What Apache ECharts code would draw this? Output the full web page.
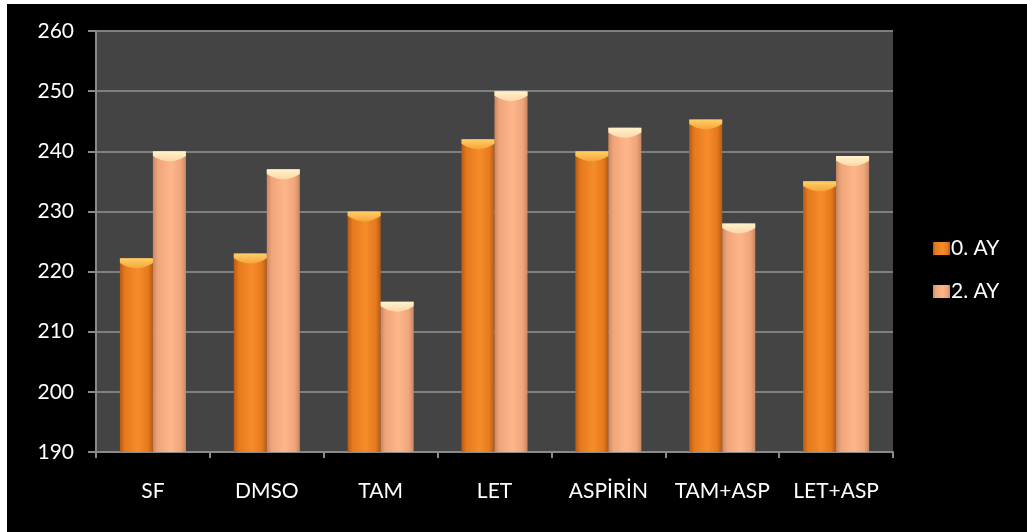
<!DOCTYPE html>
<html>
<head>
<meta charset="utf-8">
<script src="https://cdn.jsdelivr.net/npm/echarts@6/dist/echarts.min.js"></script>
<style>
  html, body { margin: 0; padding: 0; background: #fff; }
  #coolgraph { position: absolute; left: 7px; top: 4px; width: 1020px; height: 528px; background: #000; }
</style>
</head>
<body>
<div id="coolgraph"></div>
<script>
var categories = ['SF', 'DMSO', 'TAM', 'LET', 'ASPİRİN', 'TAM+ASP', 'LET+ASP'];
var ay0 = [222.2, 223, 230, 242, 240, 245.3, 235];
var ay2 = [240, 237, 215, 250, 243.9, 228, 239.2];
var seriesNames = ['0. AY', '2. AY'];

var chartDom = document.getElementById('coolgraph');
var myChart = echarts.init(chartDom);
var option;

function sideGrad(dark, mid, light) {
  return new echarts.graphic.LinearGradient(0, 0, 1, 0, [
    { offset: 0, color: dark },
    { offset: 0.15, color: mid },
    { offset: 0.55, color: light },
    { offset: 0.85, color: mid },
    { offset: 1, color: dark }
  ]);
}

function capGrad(top, bottom) {
  return new echarts.graphic.LinearGradient(0, 0, 0, 1, [
    { offset: 0, color: top },
    { offset: 1, color: bottom }
  ]);
}

var orange = sideGrad('#b85a14', '#e57a1e', '#f68c2a');
var peach = sideGrad('#c98862', '#f0a57a', '#fdb68a');
var capShape = 'path://M0,0 L10,0 L10,3 Q5,10 0,3 Z';

option = {
  backgroundColor: '#000',
  textStyle: { fontFamily: 'Lato, "Open Sans", sans-serif' },
  legend: {
    orient: 'vertical',
    left: 921,
    top: 229,
    icon: 'rect',
    itemWidth: 17,
    itemHeight: 13,
    itemGap: 22,
    textStyle: { color: '#fff', fontSize: 21, padding: [0, 0, 0, -4] },
    data: seriesNames
  },
  grid: {
    show: true,
    left: 89,
    top: 27,
    right: 134,
    bottom: 80,
    backgroundColor: '#444',
    borderWidth: 0
  },
  xAxis: {
    type: 'category',
    data: categories,
    axisLine: { lineStyle: { color: '#8a8a8a', width: 2 } },
    axisTick: { show: true, interval: 0, length: 6, lineStyle: { color: '#8a8a8a', width: 2 } },
    axisLabel: { color: '#fff', fontSize: 21, margin: 29, interval: 0, hideOverlap: false }
  },
  yAxis: {
    type: 'value',
    min: 190,
    max: 260,
    interval: 10,
    axisLine: { show: true, lineStyle: { color: '#8a8a8a', width: 2 } },
    axisTick: { show: true, length: 8, lineStyle: { color: '#8a8a8a', width: 2 } },
    axisLabel: { color: '#fff', fontSize: 21, margin: 22 },
    splitLine: { lineStyle: { color: '#7f7f7f', width: 2 } }
  },
  series: [
    {
      name: seriesNames[0],
      type: 'bar',
      barGap: '0%',
      barCategoryGap: '42%',
      data: ay0,
      itemStyle: { color: orange }
    },
    {
      name: seriesNames[1],
      type: 'bar',
      data: ay2,
      itemStyle: { color: peach }
    },
    {
      name: 'cap0',
      type: 'pictorialBar',
      barWidth: 33,
      symbol: capShape,
      symbolSize: [33, 10],
      symbolPosition: 'end',
      symbolOffset: ['-50%', 0],
      data: ay0,
      z: 3,
      silent: true,
      itemStyle: { color: capGrad('#ffcf6a', '#f7a436') }
    },
    {
      name: 'cap2',
      type: 'pictorialBar',
      barWidth: 33,
      symbol: capShape,
      symbolSize: [33, 10],
      symbolPosition: 'end',
      symbolOffset: ['50%', 0],
      data: ay2,
      z: 3,
      silent: true,
      itemStyle: { color: capGrad('#fff3cc', '#fdd6a6') }
    }
  ]
};

option && myChart.setOption(option);
</script>
</body>
</html>
